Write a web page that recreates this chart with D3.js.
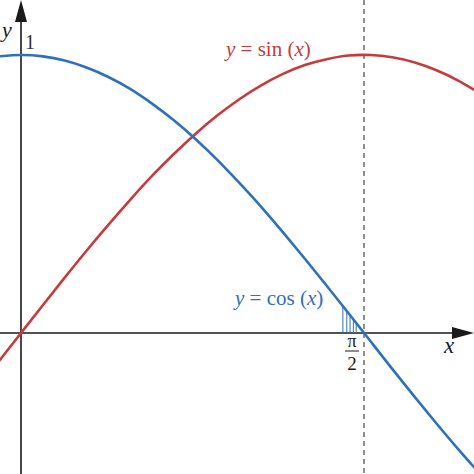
<!DOCTYPE html>
<html lang="en">
<head>
  <meta charset="UTF-8">
  <title>sin and cos</title>
  <script src="https://d3js.org/d3.v7.min.js"></script>
  <style>
    body { margin: 0; background: white; }
    text { font-family: "Liberation Serif", "DejaVu Serif", serif; }
  </style>
</head>
<body>
<div id="chart"></div>
<script>
// sample points
var xValues = [-0.1, 0, 0.1, 0.2, 0.3, 0.4, 0.5, 0.6, 0.7, 0.8, 0.9, 1.0, 1.1,
               1.2, 1.3, 1.4, 1.5, 1.6, 1.7, 1.8, 1.9, 2.0, 2.1];
var sinValues = [-0.100, 0, 0.100, 0.199, 0.296, 0.389, 0.479, 0.565, 0.644, 0.717,
                 0.783, 0.841, 0.891, 0.932, 0.964, 0.985, 0.998, 1.000, 0.992,
                 0.974, 0.946, 0.909, 0.863];
var cosValues = [0.995, 1, 0.995, 0.980, 0.955, 0.921, 0.878, 0.825, 0.765, 0.697,
                 0.622, 0.540, 0.454, 0.362, 0.267, 0.170, 0.071, -0.029, -0.129,
                 -0.227, -0.323, -0.416, -0.505];
// hatch lines under cos near pi/2
var hatchX = [1.474, 1.492, 1.507, 1.522, 1.535];
var hatchY = [0.097, 0.079, 0.064, 0.049, 0.036];
var halfPi = Math.PI / 2;

var width = 474, height = 474;
var blue = "#2f70bd", red = "#c63b3b";

var xScale = d3.scaleLinear().domain([0, halfPi]).range([21, 364]);
var yScale = d3.scaleLinear().domain([0, 1]).range([333, 55]);

var svg = d3.select("#chart").append("svg")
  .attr("width", width)
  .attr("height", height);

// dashed line at pi/2
svg.append("line")
  .attr("x1", xScale(halfPi)).attr("x2", xScale(halfPi))
  .attr("y1", 0).attr("y2", height)
  .attr("stroke", "#444")
  .attr("stroke-width", 1.2)
  .attr("stroke-dasharray", "5,4");

// axes with arrow heads
var axisColor = "#1a1a1a";
svg.append("line")
  .attr("x1", 0).attr("x2", width - 12)
  .attr("y1", yScale(0)).attr("y2", yScale(0))
  .attr("stroke", axisColor).attr("stroke-width", 1.6);
svg.append("line")
  .attr("x1", xScale(0)).attr("x2", xScale(0))
  .attr("y1", 12).attr("y2", height)
  .attr("stroke", axisColor).attr("stroke-width", 1.6);
svg.append("path")
  .attr("d", "M" + width + "," + yScale(0) + " l-22,-6 l0,12 z")
  .attr("fill", axisColor);
svg.append("path")
  .attr("d", "M" + xScale(0) + ",0 l-6,22 l12,0 z")
  .attr("fill", axisColor);

// hatch
svg.selectAll(".hatch")
  .data(hatchX)
  .enter().append("line")
  .attr("class", "hatch")
  .attr("x1", function(d){ return xScale(d); })
  .attr("x2", function(d){ return xScale(d); })
  .attr("y1", yScale(0))
  .attr("y2", function(d, i){ return yScale(hatchY[i]); })
  .attr("stroke", blue)
  .attr("stroke-width", 1);

// curves
var line = d3.line()
  .x(function(d){ return xScale(d[0]); })
  .y(function(d){ return yScale(d[1]); })
  .curve(d3.curveNatural);

svg.append("path")
  .datum(xValues.map(function(x, i){ return [x, sinValues[i]]; }))
  .attr("d", line)
  .attr("fill", "none")
  .attr("stroke", red)
  .attr("stroke-width", 2.6);

svg.append("path")
  .datum(xValues.map(function(x, i){ return [x, cosValues[i]]; }))
  .attr("d", line)
  .attr("fill", "none")
  .attr("stroke", blue)
  .attr("stroke-width", 2.6);

// labels
function label(x, y, color, parts, size) {
  var t = svg.append("text")
    .attr("x", x).attr("y", y)
    .attr("fill", color)
    .attr("font-size", size || 21);
  parts.forEach(function(p){
    var s = t.append("tspan").text(p[0]);
    if (p[1]) s.attr("font-style", "italic");
  });
  return t;
}
label(226, 56, red, [["y", 1], [" = sin (", 0], ["x", 1], [")", 0]]);
label(235, 305, blue, [["y", 1], [" = cos (", 0], ["x", 1], [")", 0]]);
label(2, 37, "#1a1a1a", [["y", 1]], 22);
label(25, 49, "#333", [["1", 0]], 20);
label(444, 353, "#1a1a1a", [["x", 1]], 23);

// pi over 2
svg.append("text")
  .attr("x", 352).attr("y", 347)
  .attr("text-anchor", "middle")
  .attr("font-size", 18)
  .attr("fill", "#1a1a1a")
  .text("\u03C0");
svg.append("line")
  .attr("x1", 345).attr("x2", 359)
  .attr("y1", 351).attr("y2", 351)
  .attr("stroke", "#1a1a1a").attr("stroke-width", 1);
svg.append("text")
  .attr("x", 352).attr("y", 370)
  .attr("text-anchor", "middle")
  .attr("font-size", 19)
  .attr("fill", "#1a1a1a")
  .text("2");
</script>
</body>
</html>
